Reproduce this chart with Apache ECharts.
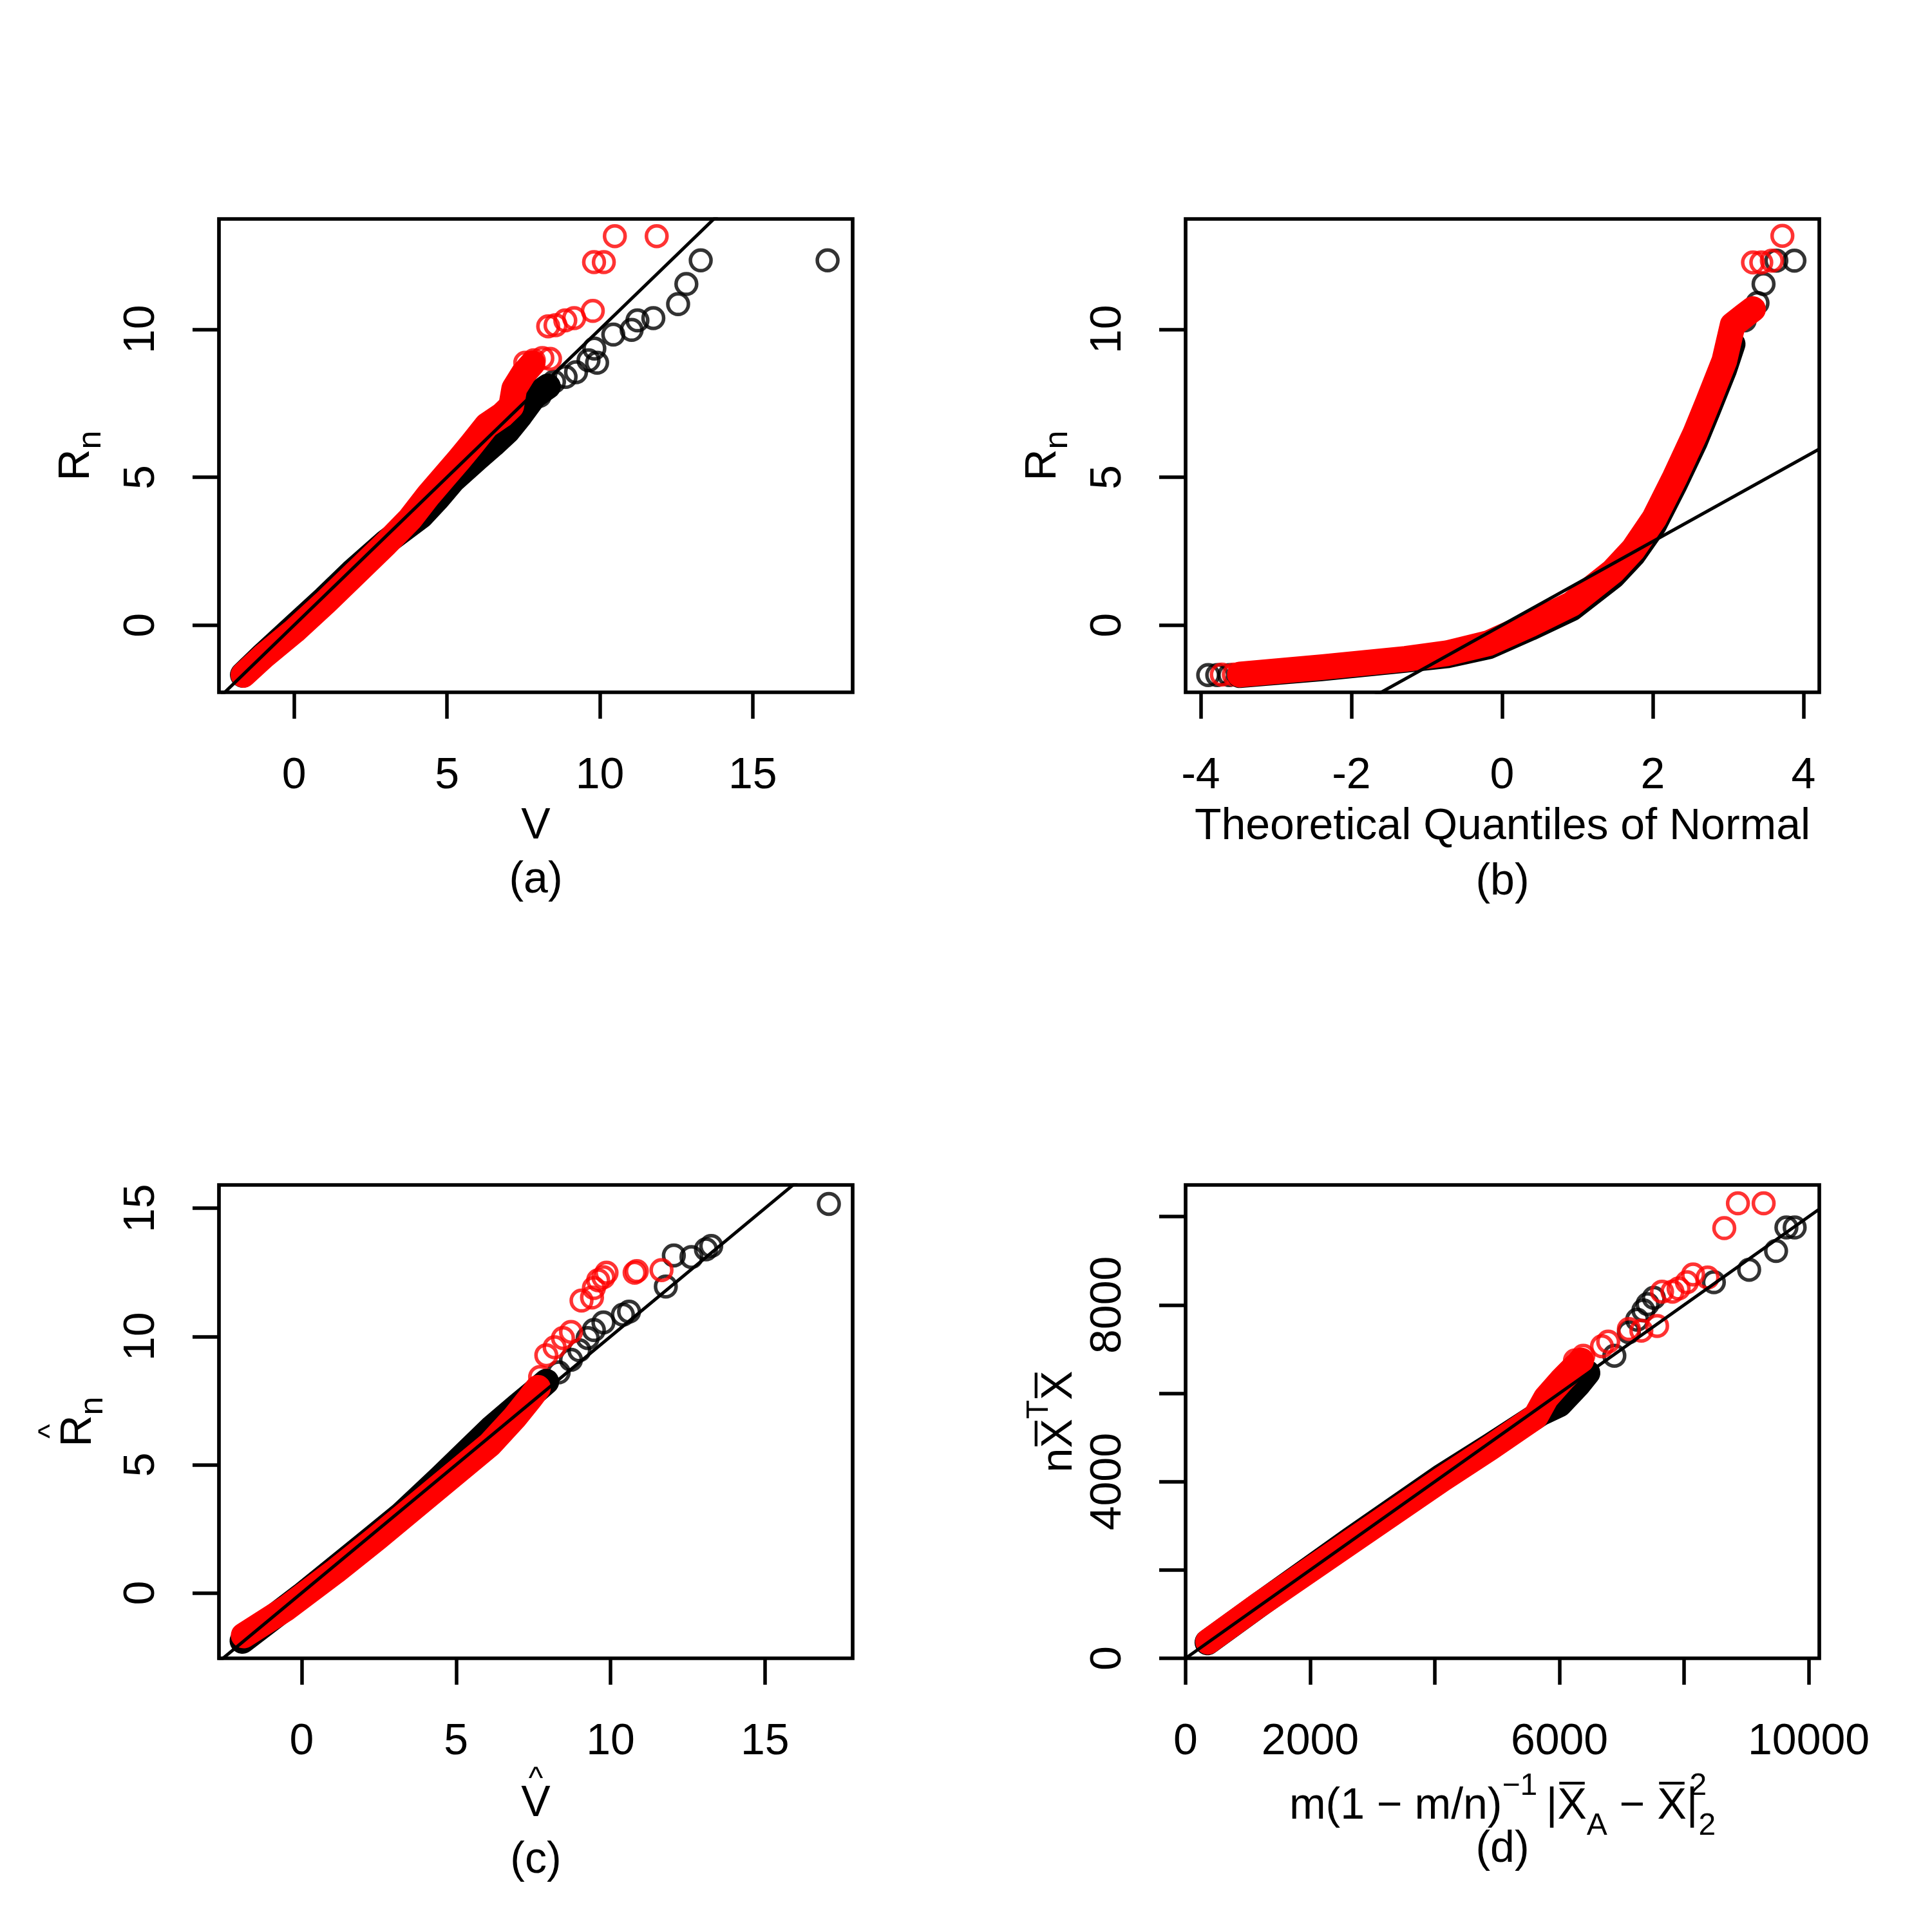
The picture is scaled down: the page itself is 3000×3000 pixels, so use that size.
<!DOCTYPE html>
<html>
<head>
<meta charset="utf-8">
<script src="https://cdn.jsdelivr.net/npm/echarts@6/dist/echarts.min.js"></script>
<style>
  html, body { margin: 0; padding: 0; background: #fff; }
  #qq_Chart { width: 3000px; height: 3000px; }
</style>
</head>
<body>
<div id="qq_Chart"></div>
<script>
// ---- data ----
// (a) R_n against V
var aBlackBand = [[-1.68,-1.68],[-1.0,-1.0],[0,-0.05],[1.0,0.9],[1.9,1.8],[3.0,2.8],[4.16,3.7],[4.7,4.3],[5.19,4.9],[6.0,5.65],[6.5,6.1],[6.97,6.55],[7.4,7.1],[7.86,7.75],[8.3,8.07]];
var aRedBand = [[-1.66,-1.68],[-1.0,-1.05],[0,-0.2],[1.0,0.75],[2.0,1.75],[3.0,2.75],[3.8,3.6],[4.4,4.4],[4.9,5.0],[5.4,5.6],[5.8,6.1],[6.3,6.75],[6.8,7.1],[7.1,7.4],[7.2,8.0],[7.5,8.5],[7.8,8.85]];
var aBlackPts = [[17.45,12.33],[13.3,12.33],[12.83,11.53],[12.56,10.85],[11.75,10.38],[11.23,10.3],[11.04,9.98],[10.44,9.82],[9.82,9.35],[9.63,8.95],[9.91,8.87],[9.22,8.55],[8.88,8.39],[8.5,8.23],[8.32,8.07],[8.03,7.75]];
var aRedPts = [[10.49,13.15],[11.86,13.15],[9.81,12.27],[10.13,12.27],[9.77,10.62],[9.16,10.38],[8.87,10.3],[8.55,10.14],[8.31,10.1],[7.56,8.87],[7.84,8.95],[8.12,9.03],[8.37,9.0]];

// (b) R_n against normal quantiles
var bBlackBand = [[-3.48,-1.69],[-2.4,-1.46],[-1.3,-1.18],[-0.73,-1.02],[-0.18,-0.72],[0.37,-0.1],[0.92,0.56],[1.47,1.65],[1.74,2.38],[2.02,3.4],[2.29,4.75],[2.56,6.2],[2.73,7.25],[2.95,8.65],[3.06,9.5]];
var bRedBand = [[-3.48,-1.67],[-2.38,-1.42],[-1.28,-1.14],[-0.73,-0.95],[-0.18,-0.61],[0.37,0.02],[0.92,0.71],[1.47,1.82],[1.74,2.56],[2.02,3.61],[2.29,4.98],[2.56,6.46],[2.73,7.52],[2.95,8.94],[3.06,10.15],[3.22,10.47],[3.33,10.68]];
var bBlackPts = [[-3.9,-1.69],[-3.78,-1.69],[-3.62,-1.69],[3.06,9.52],[3.22,10.3],[3.39,10.89],[3.47,11.53],[3.64,12.32],[3.88,12.32]];
var bRedPts = [[-3.72,-1.67],[-3.56,-1.67],[-3.45,-1.67],[3.33,12.26],[3.44,12.26],[3.58,12.32],[3.72,13.16]];

// (c) R_n hat against V hat
var cBlackBand = [[-1.92,-1.87],[0,-0.1],[2,1.85],[3.22,3.05],[4.5,4.5],[6.17,6.45],[7.0,7.3],[7.6,7.9],[7.92,8.24]];
var cRedBand = [[-1.88,-1.66],[-0.5,-0.6],[1.1,0.85],[2.45,2.15],[3.8,3.5],[5.0,4.7],[6.1,5.8],[6.9,6.85],[7.4,7.6],[7.65,8.0]];
var cBlackPts = [[17.07,15.17],[13.26,13.53],[13.09,13.4],[12.62,13.1],[12.05,13.16],[11.79,11.95],[10.6,10.97],[10.4,10.85],[9.77,10.55],[9.46,10.25],[9.26,9.94],[8.99,9.46],[8.72,9.09],[8.32,8.6],[7.92,8.24]];
var cRedPts = [[11.65,12.59],[10.78,12.49],[10.85,12.55],[9.87,12.49],[9.77,12.31],[9.6,12.19],[9.46,11.89],[9.4,11.52],[9.06,11.4],[8.72,10.18],[8.46,9.94],[8.19,9.58],[7.92,9.27],[7.72,8.42]];

// (d) n Xbar'Xbar against the scaled distance
var dBlackBand = [[350,360],[1200,1230],[2650,2690],[4100,4110],[4900,4820],[5700,5550],[6000,5750],[6300,6200],[6449,6462]];
var dRedBand = [[361,377],[1193,1226],[2657,2641],[4120,4056],[4886,4764],[5617,5472],[5784,5896],[6050,6321],[6349,6745]];
var dBlackPts = [[9775,9753],[9642,9753],[9476,9222],[9044,8797],[8478,8514],[7514,8161],[7414,8019],[7347,7878],[7247,7665],[7114,7382],[6881,6851],[6449,6462]];
var dRedPts = [[8864,10300],[9277,10300],[8645,9739],[8378,8621],[8145,8691],[8046,8514],[7912,8373],[7813,8302],[7646,8302],[7567,7524],[7314,7418],[7114,7453],[6782,7170],[6682,7064],[6383,6851],[6249,6745]];

// reference lines: [intercept, slope]
var aLine = [0, 1];
var bLine = [0, 1.414];
var cLine = [0, 1];
var dLine = [0, 1];

// axis ranges and ticks
var aXRange = [-2.46, 18.27], aYRange = [-2.27, 13.73];
var bXRange = [-4.2, 4.21],   bYRange = [-2.27, 13.73];
var cXRange = [-2.68, 17.84], cYRange = [-2.55, 15.91];
var dXRange = [0, 10170],     dYRange = [0, 10717];
var aXTicks = [0, 5, 10, 15], aYTicks = [0, 5, 10];
var bXTicks = [-4, -2, 0, 2, 4], bYTicks = [0, 5, 10];
var cXTicks = [0, 5, 10, 15], cYTicks = [0, 5, 10, 15];
var dXTicks = [0, 2000, 4000, 6000, 8000, 10000], dXLabels = [0, 2000, 6000, 10000];
var dYTicks = [0, 2000, 4000, 6000, 8000, 10000], dYLabels = [0, 4000, 8000];

var FONT = 'Liberation Sans';
var FS = 68;

function valueAxis(gi, range, ticks, labels, isY, name, nameGap, nameStyle) {
  return {
    type: 'value', gridIndex: gi, min: range[0], max: range[1],
    axisLine: {show: false, onZero: false},
    splitLine: {show: false},
    axisTick: {show: true, inside: false, length: 41, customValues: ticks,
               lineStyle: {color: '#000', width: 5.5}},
    axisLabel: {show: true, customValues: labels, margin: isY ? 86 : 96,
                rotate: isY ? 90 : 0, fontSize: FS, fontFamily: FONT, color: '#000',
                hideOverlap: false, formatter: function (v) { return String(v); }},
    name: name, nameLocation: 'middle', nameGap: nameGap,
    nameTextStyle: Object.assign({fontSize: FS, fontFamily: FONT, color: '#000'}, nameStyle)
  };
}

function band(data, color, gi) {
  return {type: 'line', xAxisIndex: gi, yAxisIndex: gi, data: data,
          symbol: 'none', showSymbol: false, silent: true, clip: true,
          lineStyle: {color: color, width: 40, cap: 'round', join: 'round'}};
}
function pts(data, color, gi) {
  return {type: 'scatter', xAxisIndex: gi, yAxisIndex: gi, data: data,
          symbol: 'circle', symbolSize: 32, silent: true,
          itemStyle: {color: 'rgba(0,0,0,0)', borderColor: color, borderWidth: 5.5}};
}
function refLine(coef, xr, gi) {
  var x0 = xr[0], x1 = xr[1];
  return {type: 'line', xAxisIndex: gi, yAxisIndex: gi, symbol: 'none', silent: true, clip: true,
          data: [[x0, coef[0] + coef[1] * x0], [x1, coef[0] + coef[1] * x1]],
          lineStyle: {color: '#000', width: 5}};
}

// axis titles (plotmath look-alikes)
var rnRich = {
  h: {fontSize: 48, lineHeight: 17, align: 'center', padding: [0, 30, 0, 0]},
  r: {fontSize: FS, lineHeight: 68, verticalAlign: 'top', align: 'center'},
  s: {fontSize: 52, lineHeight: 114, verticalAlign: 'middle', align: 'center'}
};
var vhatRich = {
  h: {fontSize: 48, lineHeight: 7, align: 'center'},
  v: {fontSize: FS, lineHeight: 68, align: 'center'},
  s: {fontSize: FS, lineHeight: 108, align: 'center'}
};
var dyRich = {
  m: {fontSize: FS, lineHeight: 110, verticalAlign: 'middle', align: 'center'},
  u: {fontSize: 48, verticalAlign: 'top', align: 'center'}
};
var dxRich = {
  m: {fontSize: FS, lineHeight: 110, verticalAlign: 'middle', align: 'center'},
  u: {fontSize: 48, verticalAlign: 'top', align: 'center'},
  w: {fontSize: 48, verticalAlign: 'top', align: 'center', width: 1},
  d: {fontSize: 48, verticalAlign: 'bottom', align: 'center'},
  s: {fontSize: FS, lineHeight: 24, align: 'center'}
};

var grids = [
  {left: 340,  top: 340,  width: 984, height: 735},
  {left: 1841, top: 340,  width: 984, height: 735},
  {left: 340,  top: 1840, width: 984, height: 735},
  {left: 1841, top: 1840, width: 984, height: 735}
].map(function (g) {
  return Object.assign({show: true, borderColor: '#000', borderWidth: 5.7,
                        backgroundColor: 'transparent', containLabel: false,
                        outerBoundsMode: 'none'}, g);
});

var option = {
  animation: false,
  backgroundColor: '#fff',
  textStyle: {fontFamily: FONT},
  grid: grids,
  xAxis: [
    valueAxis(0, aXRange, aXTicks, aXTicks, false, 'V\n(a)', 166, {lineHeight: 84}),
    valueAxis(1, bXRange, bXTicks, bXTicks, false, 'Theoretical Quantiles of Normal\n(b)', 166, {lineHeight: 86}),
    valueAxis(2, cXRange, cXTicks, cXTicks, false, '{h|^}\n{v|V}\n{s|(c)}', 163, {rich: vhatRich}),
    valueAxis(3, dXRange, dXTicks, dXLabels, false,
      '{m|m(1 \u2212 m/n)}{u|\u22121}{m|\u2009|X\u0305}{d|A}{m| \u2212 X\u0305|}{w|2}{d|2}\n{s|(d)}', 175, {rich: dxRich})
  ],
  yAxis: [
    valueAxis(0, aYRange, aYTicks, aYTicks, true, '{r|R}{s|n}', 141, {rich: rnRich}),
    valueAxis(1, bYRange, bYTicks, bYTicks, true, '{r|R}{s|n}', 141, {rich: rnRich}),
    valueAxis(2, cYRange, cYTicks, cYTicks, true, '{h|^}\n{r|R}{s|n}', 138, {rich: rnRich}),
    valueAxis(3, dYRange, dYTicks, dYLabels, true, '{m|nX\u0305}{u|T}{m|X\u0305}', 141, {rich: dyRich})
  ],
  series: [
    band(aBlackBand, '#000', 0), pts(aBlackPts, '#000', 0),
    band(aRedBand, '#ff0000', 0), pts(aRedPts, '#ff0000', 0), refLine(aLine, aXRange, 0),
    band(bBlackBand, '#000', 1), pts(bBlackPts, '#000', 1),
    band(bRedBand, '#ff0000', 1), pts(bRedPts, '#ff0000', 1), refLine(bLine, bXRange, 1),
    band(cBlackBand, '#000', 2), pts(cBlackPts, '#000', 2),
    band(cRedBand, '#ff0000', 2), pts(cRedPts, '#ff0000', 2), refLine(cLine, cXRange, 2),
    band(dBlackBand, '#000', 3), pts(dBlackPts, '#000', 3),
    band(dRedBand, '#ff0000', 3), pts(dRedPts, '#ff0000', 3), refLine(dLine, dXRange, 3)
  ]
};

var myChart = echarts.init(document.getElementById('qq_Chart'), null, {renderer: 'canvas'});
myChart.setOption(option);
</script>
</body>
</html>
